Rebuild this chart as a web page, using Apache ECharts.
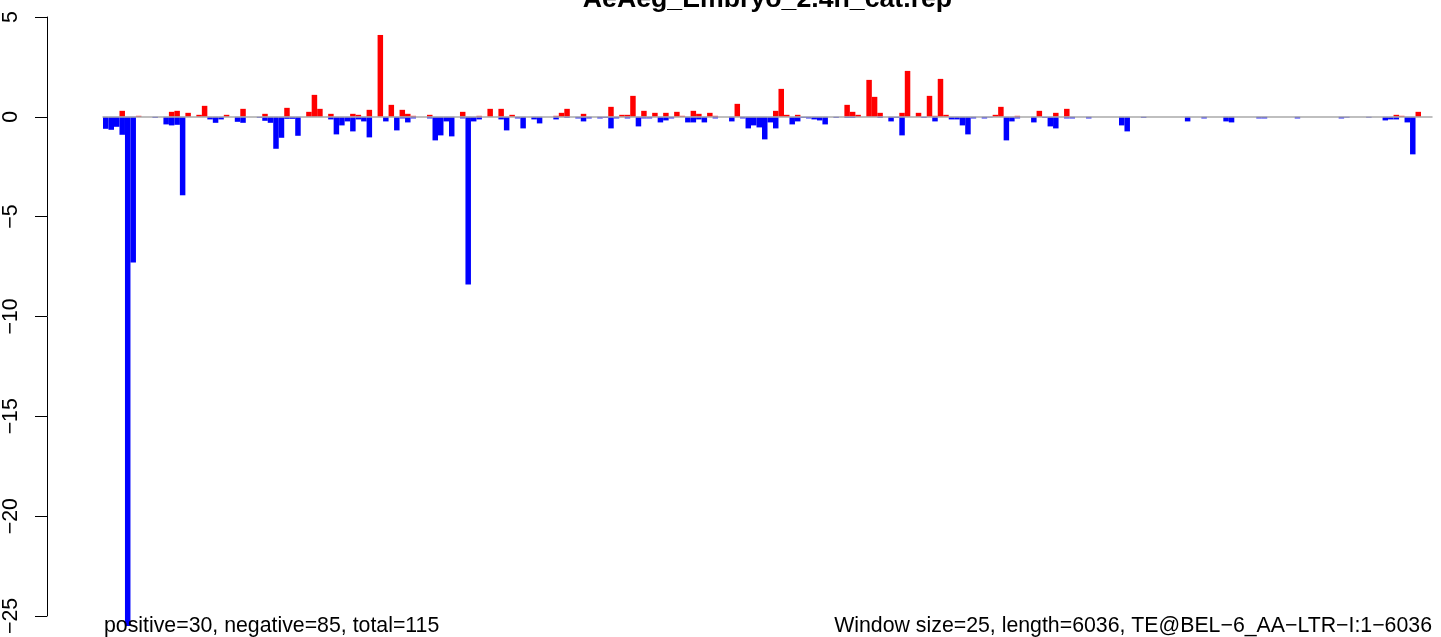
<!DOCTYPE html>
<html>
<head>
<meta charset="utf-8">
<script src="https://cdn.jsdelivr.net/npm/echarts@6/dist/echarts.min.js"></script>
<style>
html,body{margin:0;padding:0;background:#fff;}
#c{width:1441px;height:637px;}
</style>
</head>
<body>
<div id="c"></div>
<script>
// ---- data ----
const titleText = "AeAeg_Embryo_2.4h_cat.rep";
const leftNote = "positive=30, negative=85, total=115";
const rightNote = "Window size=25, length=6036, TE@BEL\u22126_AA\u2212LTR\u2212I:1\u22126036";
const yTicks = [-25, -20, -15, -10, -5, 0, 5];

// positive (red) values per window, 242 windows
const positiveValues = [
  0,0,0,0.3,0,0,0.05,0,0,0, 0,0,0.25,0.3,0,0.2,0,0.1,0.55,0,
  0,0,0.1,0,0,0.4,0,0,0,0.15, 0,0,0,0.45,0,0,0,0.25,1.1,0.4,
  0,0.15,0,0,0,0.15,0.1,0,0.35,0, 4.1,0,0.6,0,0.35,0.15,0.05,0,0,0.1,
  0,0,0,0,0,0.25,0,0,0.05,0, 0.4,0,0.4,0,0.1,0,0,0,0,0,
  0,0,0.05,0.2,0.4,0,0,0.15,0,0, 0,0,0.5,0,0.1,0.1,1.05,0,0.3,0,
  0.2,0,0.2,0,0.25,0.05,0,0.3,0.15,0, 0.2,0.05,0,0,0,0.65,0,0,0,0,
  0,0,0.3,1.4,0.1,0,0.1,0,0,0, 0,0,0,0,0,0.6,0.25,0.1,0,1.85,
  1.0,0.2,0,0,0,0.2,2.3,0,0.2,0, 1.05,0.05,1.9,0.1,0,0,0,0,0,0,
  0,0,0.1,0.5,0,0,0.05,0,0,0, 0.3,0,0,0.2,0,0.4,0,0,0,0,
  0,0,0,0,0,0,0,0,0,0, 0,0,0,0,0,0,0,0,0,0,
  0,0,0,0,0,0,0,0,0,0, 0,0,0,0,0,0,0,0,0,0,
  0,0,0,0,0,0,0,0,0,0, 0,0,0,0,0,0.1,0.05,0,0,0.25,
  0,0
];

// negative (blue) values per window
const negativeValues = [
  -0.6,-0.65,-0.5,-0.9,-25.5,-7.3,0,0,0,-0.05, 0,-0.38,-0.43,-0.4,-3.93,0,0,0,0,-0.13,
  -0.3,-0.13,0,0,-0.25,-0.3,0,0,-0.05,-0.2, -0.3,-1.6,-1.05,-0.1,-0.1,-0.95,0,0,0,0,
  0,-0.13,-0.88,-0.43,-0.23,-0.73,-0.13,-0.23,-1.03,0, 0,-0.23,0,-0.68,-0.08,-0.28,-0.08,0,0,-0.08,
  -1.18,-0.93,-0.23,-0.98,0,-0.08,-8.4,-0.23,-0.13,0, 0,0,-0.13,-0.68,0,-0.08,-0.58,0,-0.13,-0.33,
  0,0,-0.13,0,-0.05,0,-0.08,-0.23,-0.08,0, -0.08,-0.05,-0.58,-0.08,0,-0.08,0,-0.48,-0.08,-0.08,
  0,-0.28,-0.18,-0.08,0,0,-0.28,-0.28,-0.13,-0.28, 0,-0.08,0,0,-0.23,0,-0.08,-0.58,-0.43,-0.53,
  -1.13,-0.28,-0.58,0,0,-0.38,-0.23,-0.05,-0.08,-0.13, -0.18,-0.38,0,-0.05,0,-0.05,-0.05,0,0,0,
  0,-0.05,0,-0.23,-0.05,-0.93,0,0,0,-0.05, 0,-0.23,0,0,-0.13,-0.13,-0.43,-0.88,-0.08,0,
  -0.08,-0.03,0,0,-1.18,-0.23,-0.08,0,0,-0.28, 0,-0.05,-0.48,-0.58,0,-0.08,-0.08,0,0,-0.08,
  0,0,0,0,0,-0.43,-0.73,0,0,-0.05, 0,0,0,0,0,0,0,-0.23,0,0,
  -0.08,0,0,0,-0.23,-0.28,0,0,0,0, -0.08,-0.08,0,0,0,0,0,-0.08,0,0,
  0,0,0,0,0,-0.08,-0.04,0,0,0, -0.04,0,0,-0.18,-0.13,-0.13,0,-0.28,-1.88,0,
  0,0
];

const windowIndex = positiveValues.map((_, i) => i + 1);

// ---- chart ----
const FONT = '"Liberation Sans", Arial, Helvetica, sans-serif';
const chart = echarts.init(document.getElementById('c'), null, {renderer: 'canvas'});
const plotLeft = 103, plotRight = 1432;

chart.setOption({
  animation: false,
  backgroundColor: '#ffffff',
  grid: {left: plotLeft, right: 1441 - plotRight, top: 17, bottom: 20, containLabel: false},
  xAxis: {
    type: 'category',
    data: windowIndex,
    boundaryGap: true,
    z: 5,
    axisLine: {show: true, onZero: true, lineStyle: {color: '#aaaaaa', width: 1.5}},
    axisTick: {show: false},
    axisLabel: {show: false},
    splitLine: {show: false}
  },
  yAxis: {
    type: 'value',
    min: yTicks[0],
    max: yTicks[yTicks.length - 1],
    interval: 5,
    offset: 56,
    axisLine: {show: true, lineStyle: {color: '#000', width: 1}},
    axisTick: {show: true, length: 12, lineStyle: {color: '#000', width: 1}},
    axisLabel: {
      show: true, rotate: 90, margin: 25, color: '#000', fontSize: 21.3, fontFamily: FONT,
      formatter: v => String(v).replace('-', '\u2212')
    },
    splitLine: {show: false}
  },
  series: [
    {
      name: 'positive', type: 'bar', data: positiveValues,
      barGap: '-100%', barCategoryGap: 0, clip: false,
      itemStyle: {color: '#ff0000', borderWidth: 0},
      silent: true
    },
    {
      name: 'negative', type: 'bar', data: negativeValues,
      barGap: '-100%', barCategoryGap: 0, clip: false,
      itemStyle: {color: '#0000ff', borderWidth: 0},
      silent: true
    }
  ],
  graphic: [
    {type: 'text', x: (plotLeft + plotRight) / 2, y: 0, z: 100,
     style: {text: titleText, fill: '#000', font: 'bold 26.7px ' + FONT, textAlign: 'center', textVerticalAlign: 'middle'}},
    {type: 'text', x: 104, y: 626, z: 100,
     style: {text: leftNote, fill: '#000', font: '21.3px ' + FONT, textAlign: 'left', textVerticalAlign: 'middle'}},
    {type: 'text', x: plotRight, y: 626, z: 100,
     style: {text: rightNote, fill: '#000', font: '21.3px ' + FONT, textAlign: 'right', textVerticalAlign: 'middle'}}
  ]
});
</script>
</body>
</html>
